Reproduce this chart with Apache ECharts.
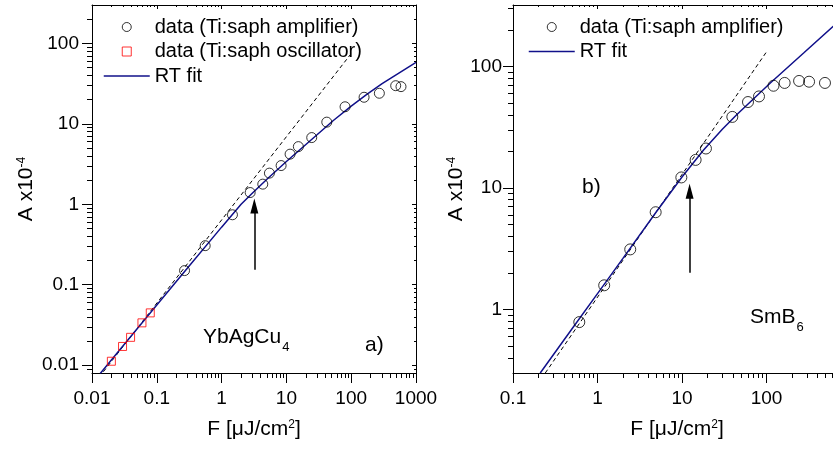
<!DOCTYPE html>
<html><head><meta charset="utf-8">
<script src="https://cdn.jsdelivr.net/npm/echarts@6/dist/echarts.min.js"></script>
<style>html,body{margin:0;padding:0;background:#fff}#c{width:833px;height:453px}</style>
</head><body><div id="c"></div>
<script>
// ---------- Panel a) YbAgCu4 ----------
const ampA_F = [0.268, 0.558, 1.47, 2.76, 4.32, 5.47, 8.29, 11.4, 15.3, 24.6, 42.0, 80.4, 158, 272, 486, 587];
const ampA_A = [0.150, 0.306, 0.741, 1.40, 1.78, 2.44, 3.03, 4.20, 5.21, 6.75, 10.5, 16.3, 21.4, 24.0, 29.8, 29.0];
const oscA_F = [0.0199, 0.0296, 0.0394, 0.059, 0.0793];
const oscA_A = [0.0112, 0.0171, 0.0222, 0.0336, 0.0447];
const fitA_F = [0.0134, 0.03, 0.1, 0.3, 1, 2, 3, 5, 10, 16.3, 30, 53, 100, 174, 300, 1000];
const fitA_A = [0.0079, 0.0173, 0.056, 0.163, 0.52, 1.0, 1.38, 2.05, 3.40, 4.8, 7.36, 11, 16.6, 23.3, 31.6, 58];
const dashA_F = [0.015, 96];
const dashA_A = [0.0083, 71.7];
const arrowA_F = [3.2, 3.2];
const arrowA_A = [0.154, 0.95];

// ---------- Panel b) SmB6 ----------
const ampB_F = [0.609, 1.20, 2.44, 4.88, 9.82, 14.5, 19.2, 39.4, 60.4, 81.5, 121, 164, 243, 319, 492];
const ampB_A = [0.787, 1.58, 3.12, 6.31, 12.2, 17.0, 21.1, 38.4, 50.9, 56.6, 69.3, 73.1, 75.9, 74.8, 73.1];
const fitB_F = [0.21, 0.5, 1, 2, 5, 10, 18, 30, 45, 111, 275, 700];
const fitB_A = [0.30, 0.693, 1.35, 2.63, 6.4, 12.3, 20.5, 30.4, 40.4, 73, 129, 232];
const dashB_F = [0.241, 101];
const dashB_A = [0.3, 133];
const arrowB_F = [12.3, 12.3];
const arrowB_A = [2.0, 9.4];

// ---------- axes / ticks ----------
const xRangeA = [0.01, 1000], yRangeA = [0.008, 300];
const xRangeB = [0.1, 1000], yRangeB = [0.3, 320];
const xMajorA = [0.01, 0.1, 1, 10, 100, 1000];
const xLabelA = ['0.01', '0.1', '1', '10', '100', '1000'];
const yMajorA = [0.01, 0.1, 1, 10, 100];
const yLabelA = ['0.01', '0.1', '1', '10', '100'];
const xMajorB = [0.1, 1, 10, 100, 1000];
const xLabelValB = [0.1, 1, 10, 100];
const xLabelB = ['0.1', '1', '10', '100'];
const yMajorB = [1, 10, 100];
const yLabelB = ['1', '10', '100'];
const mantissas = [2, 3, 4, 5, 6, 7, 8, 9];

const FONT = "'Liberation Sans', Arial, Helvetica, sans-serif";
const BLACK = '#000';
const NAVY = '#10108a';

function minorTicks(range) {
  const out = [];
  for (let e = -3; e <= 3; e++) for (const m of mantissas) {
    const v = +(m * Math.pow(10, e)).toPrecision(3);
    if (v > range[0] * 1.0001 && v < range[1] * 0.9999) out.push(v);
  }
  return out;
}
const zip = (xs, ys) => xs.map((x, i) => [x, ys[i]]);

function axis(o) {
  const a = {
    type: 'log', logBase: 10, gridIndex: o.g, position: o.pos,
    min: o.range[0], max: o.range[1],
    axisLine: { show: !!o.line, onZero: false, lineStyle: { color: BLACK, width: 1 } },
    axisTick: { show: true, inside: !!o.inside, length: o.len, customValues: o.ticks,
                lineStyle: { color: BLACK, width: 1 } },
    axisLabel: { show: false },
    splitLine: { show: false }, minorTick: { show: false }, minorSplitLine: { show: false },
    axisPointer: { show: false }, silent: true
  };
  if (o.labelVals) {
    a.axisLabel = {
      show: true, customValues: o.labelVals, margin: o.margin, fontSize: 19,
      fontFamily: FONT, color: BLACK,
      formatter: v => {
        const i = o.labelVals.findIndex(t => Math.abs(Math.log10(t) - Math.log10(v)) < 1e-6);
        return i < 0 ? '' : o.labelText[i];
      }
    };
  }
  if (o.name) {
    a.name = o.name; a.nameLocation = 'middle'; a.nameGap = o.nameGap;
    a.nameTextStyle = {
      fontSize: 21, fontFamily: FONT, color: BLACK, padding: o.namePad || 0,
      rich: { sup: { fontSize: 12, fontFamily: FONT, color: BLACK, verticalAlign: 'top' } }
    };
  }
  return a;
}

const grids = [
  { left: 92, top: 5, width: 324, height: 368, containLabel: false, outerBoundsMode: 'none' },
  { left: 513, top: 5, width: 338, height: 368, containLabel: false, outerBoundsMode: 'none' }
];

const xName = 'F [μJ/cm{sup|2}]';
const yName = 'A x10{sup|-4}';

const xAxes = [
  axis({ g: 0, pos: 'bottom', range: xRangeA, line: true, len: 10, ticks: xMajorA,
         labelVals: xMajorA, labelText: xLabelA, margin: 16, name: xName, nameGap: 46 }),
  axis({ g: 0, pos: 'bottom', range: xRangeA, len: 5, ticks: minorTicks(xRangeA) }),
  axis({ g: 0, pos: 'top', range: xRangeA, line: true, inside: true, len: 4, ticks: xMajorA }),
  axis({ g: 0, pos: 'top', range: xRangeA, inside: true, len: 2, ticks: minorTicks(xRangeA) }),
  axis({ g: 1, pos: 'bottom', range: xRangeB, line: true, len: 10, ticks: xMajorB,
         labelVals: xLabelValB, labelText: xLabelB, margin: 16, name: xName, nameGap: 46, namePad: [0, 10, 0, 0] }),
  axis({ g: 1, pos: 'bottom', range: xRangeB, len: 5, ticks: minorTicks(xRangeB) }),
  axis({ g: 1, pos: 'top', range: xRangeB, line: true, inside: true, len: 4, ticks: xMajorB }),
  axis({ g: 1, pos: 'top', range: xRangeB, inside: true, len: 2, ticks: minorTicks(xRangeB) })
];
const yAxes = [
  axis({ g: 0, pos: 'left', range: yRangeA, line: true, len: 10, ticks: yMajorA,
         labelVals: yMajorA, labelText: yLabelA, margin: 13, name: yName, nameGap: 55 }),
  axis({ g: 0, pos: 'left', range: yRangeA, len: 5, ticks: minorTicks(yRangeA) }),
  axis({ g: 0, pos: 'right', range: yRangeA, line: true, inside: true, len: 4, ticks: yMajorA }),
  axis({ g: 0, pos: 'right', range: yRangeA, inside: true, len: 2, ticks: minorTicks(yRangeA) }),
  axis({ g: 1, pos: 'left', range: yRangeB, line: true, len: 10, ticks: yMajorB,
         labelVals: yMajorB, labelText: yLabelB, margin: 11, name: yName, nameGap: 46 }),
  axis({ g: 1, pos: 'left', range: yRangeB, len: 5, ticks: minorTicks(yRangeB) }),
  axis({ g: 1, pos: 'right', range: yRangeB, line: true, inside: true, len: 4, ticks: yMajorB }),
  axis({ g: 1, pos: 'right', range: yRangeB, inside: true, len: 2, ticks: minorTicks(yRangeB) })
];

function arrow(xs, ys) {
  return {
    silent: true, symbol: ['none', 'triangle'], symbolSize: [8, 15],
    label: { show: false }, emphasis: { disabled: true },
    lineStyle: { color: BLACK, width: 1.5, type: 'solid' },
    data: [[{ coord: [xs[0], ys[0]] }, { coord: [xs[1], ys[1]] }]]
  };
}

const hollow = c => ({ color: 'rgba(0,0,0,0)', borderColor: c, borderWidth: 1 });

const series = [
  { type: 'line', name: 'guideA', xAxisIndex: 0, yAxisIndex: 0, data: zip(dashA_F, dashA_A),
    symbol: 'none', lineStyle: { color: BLACK, width: 1, type: [4, 3] }, silent: true,
    markLine: arrow(arrowA_F, arrowA_A), z: 2 },
  { type: 'line', name: 'RT fit', xAxisIndex: 0, yAxisIndex: 0, data: zip(fitA_F, fitA_A),
    symbol: 'none', smooth: false, color: NAVY,
    lineStyle: { color: NAVY, width: 1.5 }, z: 3 },
  { type: 'scatter', name: 'data (Ti:saph oscillator)', xAxisIndex: 0, yAxisIndex: 0,
    data: zip(oscA_F, oscA_A), symbol: 'rect', symbolSize: 8, itemStyle: hollow('#ff0000'), z: 4 },
  { type: 'scatter', name: 'data (Ti:saph amplifier)', xAxisIndex: 0, yAxisIndex: 0,
    data: zip(ampA_F, ampA_A), symbol: 'circle', symbolSize: 10, itemStyle: hollow(BLACK), z: 4 },

  { type: 'line', name: 'guideB', xAxisIndex: 4, yAxisIndex: 4, data: zip(dashB_F, dashB_A),
    symbol: 'none', lineStyle: { color: BLACK, width: 1, type: [4, 3] }, silent: true,
    markLine: arrow(arrowB_F, arrowB_A), z: 2 },
  { type: 'line', name: 'RT fit', xAxisIndex: 4, yAxisIndex: 4, data: zip(fitB_F, fitB_A),
    symbol: 'none', smooth: false, color: NAVY,
    lineStyle: { color: NAVY, width: 1.5 }, z: 3 },
  { type: 'scatter', name: 'data (Ti:saph amplifier)', xAxisIndex: 4, yAxisIndex: 4,
    data: zip(ampB_F, ampB_A), symbol: 'circle', symbolSize: 11, itemStyle: hollow(BLACK), z: 4 }
];

const legendBase = {
  orient: 'vertical', itemWidth: 46, itemHeight: 9, itemGap: 4.5, selectedMode: false, padding: 0,
  textStyle: { fontSize: 20, fontFamily: FONT, color: BLACK, lineHeight: 20 },
  itemStyle: { borderWidth: 1 }, lineStyle: { width: 1.5 }
};
const SQUARE = 'path://M0,0L10,0L10,10L0,10Z';
const fitLegend = { name: 'RT fit', itemStyle: { opacity: 0 } };

const chart = echarts.init(document.getElementById('c'), null, { renderer: 'canvas' });
chart.setOption({
  animation: false,
  backgroundColor: '#fff',
  textStyle: { fontFamily: FONT },
  grid: grids,
  xAxis: xAxes,
  yAxis: yAxes,
  legend: [
    Object.assign({}, legendBase, { left: 103, top: 17,
      data: [{ name: 'data (Ti:saph amplifier)', icon: 'circle' },
             { name: 'data (Ti:saph oscillator)', icon: SQUARE },
             fitLegend] }),
    Object.assign({}, legendBase, { left: 528, top: 17,
      data: [{ name: 'data (Ti:saph amplifier)', icon: 'circle' }, fitLegend] })
  ],
  graphic: [
    { type: 'text', left: 203, top: 327, silent: true,
      style: { text: 'YbAgCu{s|4}', fontSize: 21, fontFamily: FONT, fill: BLACK,
               rich: { s: { fontSize: 13, fontFamily: FONT, fill: BLACK, verticalAlign: 'bottom', padding: [20, 0, 0, 1] } } } },
    { type: 'text', left: 365, top: 335, silent: true,
      style: { text: 'a)', fontSize: 21, fontFamily: FONT, fill: BLACK } },
    { type: 'text', left: 582, top: 177, silent: true,
      style: { text: 'b)', fontSize: 21, fontFamily: FONT, fill: BLACK } },
    { type: 'text', left: 750, top: 307, silent: true,
      style: { text: 'SmB{s|6}', fontSize: 21, fontFamily: FONT, fill: BLACK,
               rich: { s: { fontSize: 13, fontFamily: FONT, fill: BLACK, verticalAlign: 'bottom', padding: [20, 0, 0, 1] } } } }
  ],
  series: series
});
</script></body></html>
